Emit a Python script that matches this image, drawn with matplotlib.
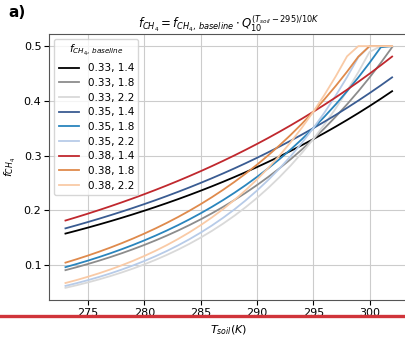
import numpy as np
import matplotlib
matplotlib.use('Agg')
import matplotlib.pyplot as plt
from matplotlib.lines import Line2D

# Parameters
f_baseline = [0.33, 0.35, 0.38]
q10_values = [1.4, 1.8, 2.2]
colors = {
    0.33: ['#000000', '#8c8c8c', '#d9d9d9'],
    0.35: ['#3a5c92', '#2a85bd', '#b7cbe8'],
    0.38: ['#c0282e', '#df8a4c', '#f9caa6'],
}

# Soil temperature grid (K), integer steps
T_soil = np.arange(273, 303)
T_ref = 295
f_max = 0.5

fig = plt.figure(figsize=(4.06, 3.37), dpi=100)
ax = fig.add_axes([0.121, 0.110, 0.885, 0.789])

for fb in f_baseline:
    for q10, c in zip(q10_values, colors[fb]):
        f = np.minimum(fb * q10 ** ((T_soil - T_ref) / 10), f_max)
        ax.plot(T_soil, f, color=c, lw=1.3, label=f'{fb}, {q10}')

ax.set_title(r'$f_{CH_4} = f_{CH_4,\,baseline} \cdot Q_{10}^{(T_{soil}-295)/10K}$',
             fontsize=8.5, pad=3)
ax.set_xlabel(r'$T_{soil}(K)$', fontsize=8, labelpad=4)
ax.set_ylabel(r'$f_{CH_4}$', fontsize=8)
ax.set_yticks([0.1, 0.2, 0.3, 0.4, 0.5])
ax.set_yticklabels(['0.1', '0.2', '0.3', '0.4', '0.5'])
ax.tick_params(labelsize=8, pad=2)
ax.grid(True, color='#cccccc', lw=0.8)
for s in ax.spines.values():
    s.set_color('#555555')
ax.legend(title=r'$f_{CH_4,\,baseline}$', fontsize=7.5, title_fontsize=7.5,
          loc='upper left', labelspacing=0.45, handlelength=2.0, borderpad=0.4)

fig.text(0.02, 0.985, 'a)', fontsize=11, fontweight='bold', va='top')
fig.add_artist(Line2D([0, 1], [1 - 316 / 337, 1 - 316 / 337],
                      color='#d0343a', lw=2.4, transform=fig.transFigure))

fig.savefig('out.png', dpi=100)
